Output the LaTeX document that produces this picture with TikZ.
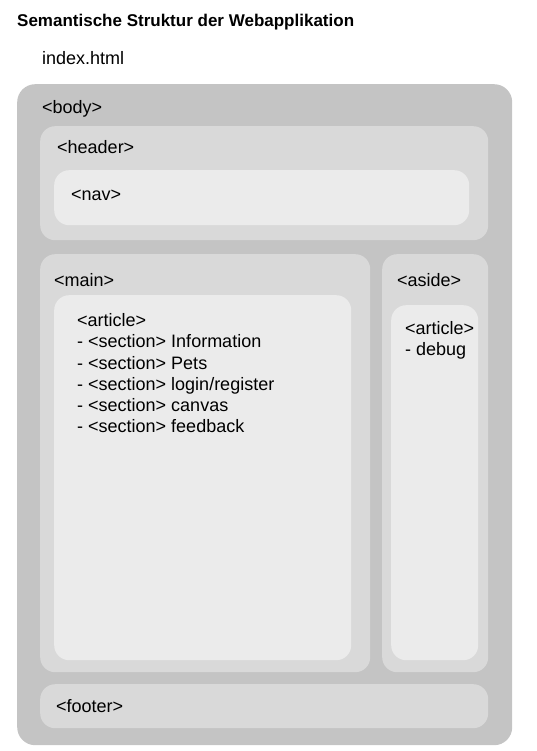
\documentclass[tikz,border=0pt]{standalone}
\usepackage{fontspec}
\setmainfont{Liberation Sans}
\usetikzlibrary{positioning}
\definecolor{bodygray}{HTML}{C4C4C4}
\definecolor{boxgray}{HTML}{D9D9D9}
\definecolor{innergray}{HTML}{EBEBEB}

\begin{document}
\begin{tikzpicture}[
  x=1pt, y=-1pt,
  every node/.style={font=\fontsize{18}{21.2}\selectfont},
  box/.style={rounded corners=15pt, inner sep=0pt, anchor=north west},
  outer-box/.style={box, fill=bodygray, rounded corners=18pt},
  mid-box/.style={box, fill=boxgray},
  inner-box/.style={box, fill=innergray},
  tag/.style={inner sep=0pt, text height=13pt, text depth=4pt},
  tag-list/.style={inner sep=0pt, align=left},
  heading/.style={font=\fontsize{17}{20}\selectfont\bfseries, inner sep=0pt, anchor=west},
  ]
  \useasboundingbox (0,0) rectangle (537,751);

  \node [heading] (title-text) at (17,22.5) {Semantische Struktur der Webapplikation};
  \node [tag, anchor=west] (file-text) at (42,60) {index.html};

  % boxes
  \node [outer-box, minimum width=495pt, minimum height=661pt] (body-box) at (17,84) {};
  \node [mid-box, minimum width=448pt, minimum height=114pt] (header-box) at (40,126) {};
  \node [inner-box, minimum width=415pt, minimum height=55pt] (nav-box) at (54,170) {};
  \node [mid-box, minimum width=330pt, minimum height=418pt] (main-box) at (40,254) {};
  \node [inner-box, minimum width=297pt, minimum height=365pt] (main-article-box) at (54,295) {};
  \node [mid-box, minimum width=106pt, minimum height=418pt] (aside-box) at (382,254) {};
  \node [inner-box, minimum width=87pt, minimum height=355pt] (aside-article-box) at (391,305) {};
  \node [mid-box, minimum width=448pt, minimum height=44pt] (footer-box) at (40,684) {};

  % labels
  \node [tag, below right=16.5pt and 25pt of body-box.north west] (body-text) {<body>};
  \node [tag, below right=14.5pt and 17pt of header-box.north west] (header-text) {<header>};
  \node [tag, below right=17pt and 17pt of nav-box.north west] (nav-text) {<nav>};
  \node [tag, below right=19.5pt and 14pt of main-box.north west] (main-text) {<main>};
  \node [tag, below right=19.5pt and 15pt of aside-box.north west] (aside-text) {<aside>};
  \node [tag-list, below right=18.5pt and 23pt of main-article-box.north west] (main-article-text)
    {<article>\\- <section> Information\\- <section> Pets\\- <section> login/register\\- <section> canvas\\- <section> feedback};
  \node [tag-list, below right=16.5pt and 14pt of aside-article-box.north west] (aside-article-text)
    {<article>\\- debug};
  \node [tag, below right=15.5pt and 16pt of footer-box.north west] (footer-text) {<footer>};

\end{tikzpicture}
\end{document}
